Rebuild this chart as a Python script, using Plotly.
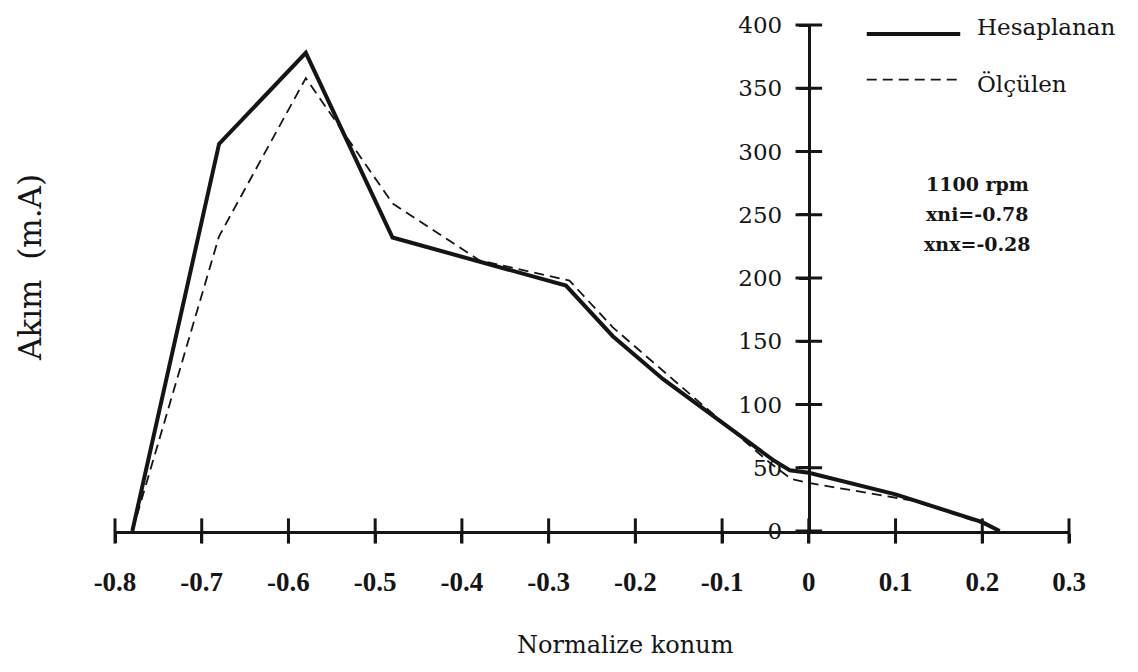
import plotly.graph_objects as go

# Data
hesap_x = [-0.78, -0.68, -0.58, -0.48, -0.28, -0.226, -0.168, -0.041, -0.022, 0.0, 0.10, 0.20, 0.22]
hesap_y = [0, 306, 378, 232, 194, 154, 120, 56, 48, 46, 29, 7, 0]

olcu_x = [-0.78, -0.68, -0.58, -0.48, -0.38, -0.276, -0.226, -0.168, -0.13, -0.045, -0.02, 0.0, 0.12, 0.20, 0.22]
olcu_y = [0, 233, 358, 259, 214, 198, 161, 127, 104, 54, 41, 38, 24, 6, 0]

x_ticks = [-0.8, -0.7, -0.6, -0.5, -0.4, -0.3, -0.2, -0.1, 0.0, 0.1, 0.2, 0.3]
x_ticktext = ["-0.8", "-0.7", "-0.6", "-0.5", "-0.4", "-0.3", "-0.2", "-0.1", "0", "0.1", "0.2", "0.3"]
y_ticks = [0, 50, 100, 150, 200, 250, 300, 350, 400]

series_names = ["Hesaplanan", "Ölçülen"]
info_lines = ["1100 rpm", "xni=-0.78", "xnx=-0.28"]
x_title = "Normalize konum"
y_title = "Akım  (m.A)"

X_RANGE = [-0.8, 0.3]
Y_RANGE = [0, 400]
INK = "#151515"
SERIF = "DejaVu Serif"

fig = go.Figure()
fig.add_trace(go.Scatter(x=hesap_x, y=hesap_y, mode="lines", name=series_names[0],
                         line=dict(color=INK, width=4), showlegend=False))
fig.add_trace(go.Scatter(x=olcu_x, y=olcu_y, mode="lines", name=series_names[1],
                         line=dict(color=INK, width=1.8, dash="10px,6px"), showlegend=False))

# crossing tick marks on both axes (placed through the data scales)
fig.add_trace(go.Scatter(x=x_ticks, y=[Y_RANGE[0]] * len(x_ticks), mode="markers",
                         marker=dict(symbol="line-ns", size=18, line=dict(color=INK, width=3)),
                         cliponaxis=False, hoverinfo="skip", showlegend=False))
fig.add_trace(go.Scatter(x=[0] * len(y_ticks), y=y_ticks, mode="markers",
                         marker=dict(symbol="line-ew", size=19, line=dict(color=INK, width=3)),
                         cliponaxis=False, hoverinfo="skip", showlegend=False))

y_pos = (0 - X_RANGE[0]) / (X_RANGE[1] - X_RANGE[0])

axis_common = dict(showgrid=False, zeroline=False, showline=True, linecolor=INK, linewidth=3,
                   tickcolor=INK, tickwidth=3, ticklen=9)

fig.update_layout(
    width=1138, height=672,
    margin=dict(l=115, r=69, t=23, b=141),
    paper_bgcolor="white", plot_bgcolor="white",
    showlegend=False,
    xaxis=dict(range=X_RANGE, tickvals=x_ticks, ticktext=x_ticktext, ticks="outside",
               anchor="y", side="bottom", ticklabelstandoff=16,
               tickfont=dict(family="Liberation Serif", size=27, color=INK, weight="bold"),
               **axis_common),
    yaxis=dict(range=Y_RANGE, tickvals=y_ticks, ticks="outside", anchor="free", position=y_pos,
               side="left", ticklabelstandoff=12,
               tickfont=dict(family=SERIF, size=23, color=INK), **axis_common),
)

# axis titles
fig.add_annotation(text=x_title, xref="paper", yref="paper", x=0.535, y=-0.226,
                   xanchor="center", yanchor="middle",
                   showarrow=False, font=dict(family=SERIF, size=24, color=INK))
fig.add_annotation(text=y_title, xref="paper", yref="paper", x=-0.089, y=0.52,
                   xanchor="center", yanchor="middle",
                   textangle=-90, showarrow=False, font=dict(family=SERIF, size=31, color=INK))

# legend (drawn manually to match long line samples)
fig.add_shape(type="line", xref="paper", yref="paper", x0=0.788, x1=0.886, y0=0.982, y1=0.982,
              line=dict(color=INK, width=4))
fig.add_shape(type="line", xref="paper", yref="paper", x0=0.788, x1=0.886, y0=0.892, y1=0.892,
              line=dict(color=INK, width=1.8, dash="10px,6px"))
fig.add_annotation(text=series_names[0], xref="paper", yref="paper", x=0.901, y=0.996,
                   xanchor="left", yanchor="middle", showarrow=False,
                   font=dict(family=SERIF, size=23, color=INK))
fig.add_annotation(text=series_names[1], xref="paper", yref="paper", x=0.901, y=0.884,
                   xanchor="left", yanchor="middle", showarrow=False,
                   font=dict(family=SERIF, size=23, color=INK))

# info text
for line, yp in zip(info_lines, [0.685, 0.626, 0.567]):
    fig.add_annotation(text="<b>" + line + "</b>", xref="paper", yref="paper", x=0.904, y=yp,
                       xanchor="center", yanchor="middle",
                       showarrow=False, font=dict(family=SERIF, size=19, color=INK))

fig.write_html("out.html")
